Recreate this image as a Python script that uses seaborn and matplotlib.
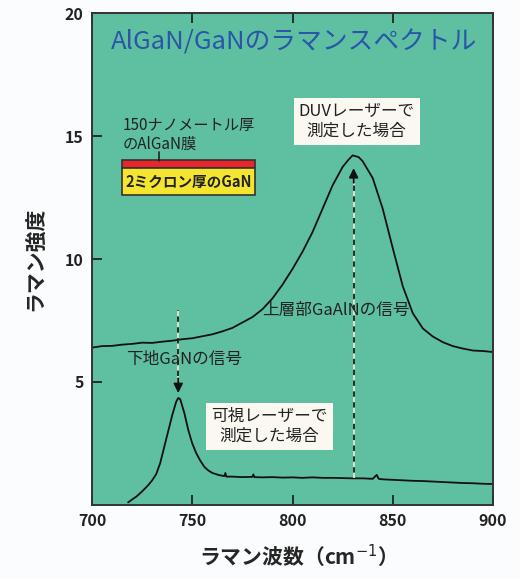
import matplotlib
matplotlib.use("Agg")
import matplotlib.pyplot as plt
import seaborn as sns
import pandas as pd

# DUVレーザーで測定したスペクトル (上のカーブ)
duv_x = [700, 705, 710, 715, 720, 725, 730, 735, 740, 745, 750, 755, 760, 765,
         770, 775, 780, 785, 790, 795, 800, 805, 810, 815, 820, 825, 828, 830,
         833, 835, 840, 845, 850, 855, 860, 865, 870, 875, 880, 885, 890, 895, 900]
duv_y = [6.40, 6.46, 6.47, 6.52, 6.55, 6.60, 6.59, 6.64, 6.68, 6.74, 6.78, 6.86,
         6.94, 7.06, 7.20, 7.42, 7.64, 7.96, 8.40, 8.96, 9.60, 10.30, 11.10, 12.05,
         13.00, 13.75, 14.05, 14.22, 14.15, 13.98, 13.30, 12.05, 10.45, 8.90, 7.80,
         7.18, 6.85, 6.62, 6.46, 6.36, 6.28, 6.26, 6.22]

# 可視レーザーで測定したスペクトル (下のカーブ)
vis_x = [718, 720, 722, 725, 728, 730, 732, 734, 736, 738, 740, 742, 743, 744,
         746, 748, 750, 752, 754, 756, 758, 760, 763, 766, 766.5, 767, 770, 775,
         780, 780.5, 781, 785, 790, 795, 800, 805, 810, 815, 820, 825, 830, 835,
         840, 842, 843, 845, 850, 855, 860, 865, 870, 875, 880, 885, 890, 895, 900]
vis_y = [0.10, 0.22, 0.33, 0.55, 0.80, 1.00, 1.25, 1.70, 2.35, 3.00, 3.65, 4.20,
         4.35, 4.30, 3.75, 3.05, 2.50, 2.10, 1.80, 1.55, 1.40, 1.30, 1.22, 1.17,
         1.30, 1.15, 1.15, 1.13, 1.14, 1.24, 1.13, 1.12, 1.13, 1.11, 1.12, 1.10,
         1.12, 1.10, 1.10, 1.09, 1.08, 1.08, 1.06, 1.22, 1.06, 1.04, 1.02, 1.00,
         0.98, 0.97, 0.95, 0.93, 0.91, 0.89, 0.88, 0.86, 0.85]

x_ticks = [700, 750, 800, 850, 900]
y_ticks = [5, 10, 15, 20]

sns.set_theme(style="ticks")
plt.rcParams['font.family'] = ['Noto Sans CJK JP', 'DejaVu Sans']

bg = "#5ec0a0"
fig = plt.figure(figsize=(5.2, 5.79), dpi=100, facecolor="#fbfcfd")
ax = fig.add_axes([0.177, 0.128, 0.771, 0.849])
ax.set_facecolor(bg)

duv = pd.DataFrame({"x": duv_x, "y": duv_y})
vis = pd.DataFrame({"x": vis_x, "y": vis_y})
sns.lineplot(data=duv, x="x", y="y", ax=ax, color="#111111", lw=1.3,
             sort=False, estimator=None)
sns.lineplot(data=vis, x="x", y="y", ax=ax, color="#111111", lw=1.3,
             sort=False, estimator=None)

ax.set_xlim(700, 900)
ax.set_ylim(0, 20)
ax.set_xticks(x_ticks)
ax.set_yticks(y_ticks)
ax.tick_params(direction="in", length=7, width=1.3, colors="#222222",
               labelsize=11.5, top=True, right=False, pad=6)
for lab in ax.get_xticklabels() + ax.get_yticklabels():
    lab.set_fontweight("bold")
for s in ax.spines.values():
    s.set_color("#333333")
    s.set_linewidth(1.4)

ax.set_xlabel("ラマン波数（cm$^{-1}$）", fontsize=15, fontweight="bold", labelpad=10)
ax.set_ylabel("ラマン強度", fontsize=15, fontweight="bold", labelpad=14)

# タイトル
ax.text(0.504, 0.941, "AlGaN/GaNのラマンスペクトル", transform=ax.transAxes,
        ha="center", va="center", fontsize=18.5, color="#2a55a8")

# 矢印 (点線)
def dashed_arrow(x, y0, y1, head_len=0.6):
    sign = 1 if y1 > y0 else -1
    ax.plot([x, x], [y0, y1 - head_len * sign], color="#222222", lw=1.3)
    ax.plot([x, x], [y0, y1 - head_len * sign],
            color="#f4f1dc", lw=1.3, ls=(0, (3, 3)))
    ax.annotate("", xy=(x, y1), xytext=(x, y1 - head_len * sign),
                arrowprops=dict(arrowstyle="-|>", color="#111111", lw=1.2,
                                mutation_scale=14, shrinkA=0, shrinkB=0))

dashed_arrow(743, 7.9, 4.55)
dashed_arrow(830.5, 1.1, 13.7)

box = dict(boxstyle="square,pad=0.3", fc="#fbf8f2", ec="none")
ax.text(832, 15.6, "DUVレーザーで\n測定した場合", ha="center", va="center",
        fontsize=12, color="#222222", bbox=box, linespacing=1.25)
ax.text(788.5, 3.2, "可視レーザーで\n測定した場合", ha="center", va="center",
        fontsize=12, color="#222222", bbox=box, linespacing=1.25)
ax.text(821.5, 7.9, "上層部GaAlNの信号", ha="center", va="center",
        fontsize=12, color="#222222")
ax.text(746, 5.9, "下地GaNの信号", ha="center", va="center",
        fontsize=12, color="#222222")

# 試料構造の図
ax.text(715.5, 15.05, "150ナノメートル厚\nのAlGaN膜", ha="left", va="center",
        fontsize=11, color="#222222", linespacing=1.2)
ax.plot([733.5, 733.5], [14.0, 14.35], color="#222222", lw=1.2)
ax.add_patch(plt.Rectangle((715, 13.7), 66.5, 0.33, fc="#e8262c", ec="#333333", lw=1.2))
ax.add_patch(plt.Rectangle((715, 12.6), 66.5, 1.1, fc="#f4e630", ec="#333333", lw=1.2))
ax.text(748.25, 13.15, "2ミクロン厚のGaN", ha="center", va="center",
        fontsize=10.5, fontweight="bold", color="#222222")

fig.savefig("out.png", dpi=100, facecolor=fig.get_facecolor())
